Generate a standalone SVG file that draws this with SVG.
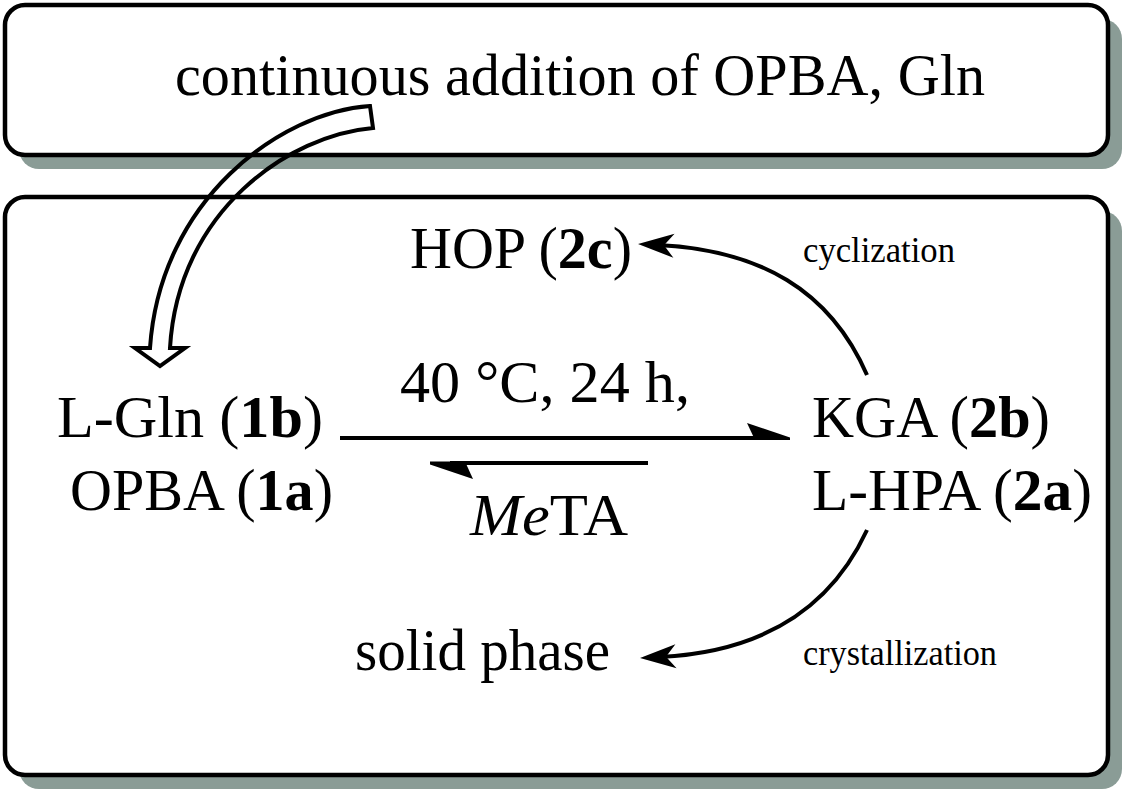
<svg xmlns="http://www.w3.org/2000/svg" width="1125" height="792" viewBox="0 0 1125 792">
<style>
.box{fill:#ffffff;stroke:#000000;stroke-width:4.5}
.shadow{fill:#8a9c96;stroke:none}
.t{font-family:"Liberation Serif","Times New Roman",serif;font-size:60px;fill:#000}
.s{font-family:"Liberation Serif","Times New Roman",serif;font-size:35px;fill:#000}
.b{font-weight:bold}
.i{font-style:italic}
.ln{stroke:#000;stroke-width:4;fill:none}
</style>
<defs>
<marker id="ah" markerUnits="userSpaceOnUse" orient="auto" refX="0" refY="0" markerWidth="1" markerHeight="1" overflow="visible">
<path d="M20,0 L-16,-12 L-6,0 L-16,12 Z" fill="#000"/>
</marker>
</defs>
<g id="top-box">
<rect class="shadow" x="19" y="19" width="1103" height="150" rx="20"/>
<rect class="box" x="5" y="5" width="1103" height="150" rx="20"/>
<text class="t" x="175" y="95" textLength="810" lengthAdjust="spacingAndGlyphs">continuous addition of OPBA, Gln</text>
</g>
<g id="reactor-box">
<rect class="shadow" x="19" y="211" width="1103" height="578" rx="20"/>
<rect class="box" x="5" y="197" width="1103" height="578" rx="20"/>
</g>
<g id="substrates">
<text class="t" x="57" y="437" textLength="266" lengthAdjust="spacingAndGlyphs">L-Gln (<tspan class="b">1b</tspan>)</text>
<text class="t" x="70" y="510" textLength="263" lengthAdjust="spacingAndGlyphs">OPBA (<tspan class="b">1a</tspan>)</text>
</g>
<g id="products">
<text class="t" x="812" y="437" textLength="238" lengthAdjust="spacingAndGlyphs">KGA (<tspan class="b">2b</tspan>)</text>
<text class="t" x="812" y="510" textLength="280" lengthAdjust="spacingAndGlyphs">L-HPA (<tspan class="b">2a</tspan>)</text>
</g>
<g id="hop">
<text class="t" x="410" y="268" textLength="222" lengthAdjust="spacingAndGlyphs">HOP (<tspan class="b">2c</tspan>)</text>
</g>
<g id="solid">
<text class="t" x="355" y="670" textLength="255" lengthAdjust="spacingAndGlyphs">solid phase</text>
</g>
<g id="labels">
<text class="t" x="400" y="402" textLength="290" lengthAdjust="spacingAndGlyphs">40 °C, 24 h,</text>
<text class="t" x="470" y="535" textLength="158" lengthAdjust="spacingAndGlyphs"><tspan class="i">Me</tspan>TA</text>
<text class="s" x="803" y="262" textLength="152" lengthAdjust="spacingAndGlyphs">cyclization</text>
<text class="s" x="803" y="665" textLength="194" lengthAdjust="spacingAndGlyphs">crystallization</text>
</g>
<g id="connectors">
<path class="ln" d="M370,106 C280,112 160,200 150,348 L135,348 L160,366 L185,348 L170,348 C178,210 290,135 373,128 Z"/>
<line class="ln" x1="340" y1="438" x2="760" y2="438"/>
<path d="M747,423 L790,437.5 L790,440 L755,440 Z" fill="#000"/>
<line class="ln" x1="648" y1="463" x2="450" y2="463"/>
<path d="M473,479 L430,464.5 L430,461.5 L465,461.5 Z" fill="#000"/>
<path class="ln" d="M867,375 C830,290 760,250 658,245" marker-end="url(#ah)"/>
<path class="ln" d="M867,530 C830,610 760,652 660,657" marker-end="url(#ah)"/>
</g>
</svg>
